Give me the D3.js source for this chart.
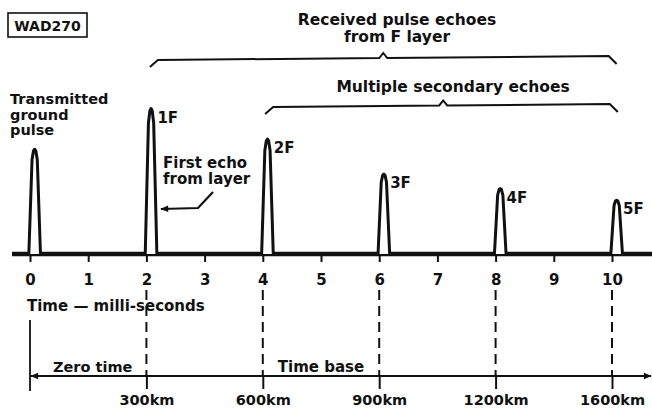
<!DOCTYPE html>
<meta charset="utf-8">
<script src="https://cdn.jsdelivr.net/npm/d3@7"></script>
<style>
  body { margin: 0; background: #fff; }
  text { font-family: "DejaVu Sans", sans-serif; font-weight: bold; fill: #111; }
</style>
<div id="vis"></div>
<script>
// time axis (milli-seconds)
const msTicks = [0, 1, 2, 3, 4, 5, 6, 7, 8, 9, 10]

// pulses: ground pulse then echoes
const pulseTimes = [0, 2, 4, 6, 8, 10]
const pulseHeights = [72, 100, 79, 55, 45, 37]
const pulseNames = ["", "1F", "2F", "3F", "4F", "5F"]

// one pulse profile: [ms offset, fraction of height]
const pulseShape = [[-0.02, 0], [0.035, 0.9], [0.06, 0.985], [0.08, 1], [0.1, 0.985], [0.125, 0.9], [0.18, 0]]

// distance scale under the time base
const kmTimes = [2, 4, 6, 8, 10]
const kmLabels = ["300km", "600km", "900km", "1200km", "1600km"]

// braces over the echoes: from, to, tip (ms)
const braceFrom = [2.06, 4.04]
const braceTo = [10.08, 10.1]
const braceTip = [6.07, 7.1]

const width = 652, height = 411
const baseY = 254, baseY2 = 376

const x = d3.scaleLinear().domain([0, 10]).range([30, 612])
const y = d3.scaleLinear().domain([0, 100]).range([baseY, 108.5])

const svg = d3.select("#vis").append("svg")
  .attr("width", width).attr("height", height)

const defs = svg.append("defs")
defs.append("marker").attr("id", "arr")
  .attr("viewBox", "0 0 10 10").attr("refX", 9).attr("refY", 5)
  .attr("markerWidth", 12).attr("markerHeight", 8).attr("markerUnits", "userSpaceOnUse")
  .attr("orient", "auto-start-reverse")
  .append("path").attr("d", "M0,1 L10,5 L0,9 Z").attr("fill", "#111")

// label box
svg.append("rect").attr("x", 8).attr("y", 13).attr("width", 79).attr("height", 24)
  .attr("fill", "none").attr("stroke", "#111").attr("stroke-width", 1.6)
svg.append("text").attr("x", 47.5).attr("y", 31).attr("text-anchor", "middle")
  .style("font-size", "14px").text("WAD270")

// thick baseline
svg.append("line")
  .attr("x1", x(-0.31)).attr("x2", width).attr("y1", baseY).attr("y2", baseY)
  .attr("stroke", "#111").attr("stroke-width", 4.5)

// pulses
const line = d3.line().x(d => x(d[0])).y(d => y(d[1]))
const pulses = pulseTimes.map((t, i) => pulseShape.map(p => [t + p[0], p[1] * pulseHeights[i]]))

svg.selectAll(".pulse")
  .data(pulses)
  .enter()
  .append("path")
  .attr("class", "pulse")
  .attr("d", line)
  .attr("fill", "#fff")
  .attr("stroke", "#111")
  .attr("stroke-width", 3)
  .attr("stroke-linejoin", "round")

svg.selectAll(".pname")
  .data(pulseTimes.slice(1))
  .enter()
  .append("text")
  .attr("class", "pname")
  .attr("x", t => x(t) + 11)
  .attr("y", (t, i) => y(pulseHeights[i + 1]) + 14)
  .style("font-size", "15px")
  .text((t, i) => pulseNames[i + 1])

// time axis
const axis = svg.append("g")
  .attr("transform", `translate(0,${baseY})`)
  .call(d3.axisBottom(x).tickValues(msTicks).tickSize(8).tickPadding(12).tickFormat(d3.format("d")))
axis.select(".domain").remove()
axis.selectAll(".tick line").attr("stroke", "#111").attr("stroke-width", 2)
axis.selectAll(".tick text").style("font-size", "15px").attr("font-family", null)

svg.append("text").attr("x", 27).attr("y", 311).style("font-size", "15px").text("Time \u2014 milli-seconds")

// dashed guides down to the time base
svg.selectAll(".guide")
  .data(kmTimes)
  .enter()
  .append("line")
  .attr("class", "guide")
  .attr("x1", x).attr("x2", x)
  .attr("y1", 290).attr("y2", baseY2)
  .attr("stroke", "#111").attr("stroke-width", 2)
  .attr("stroke-dasharray", "10,6")

svg.append("line")
  .attr("x1", x(0)).attr("x2", x(0)).attr("y1", 320).attr("y2", 391)
  .attr("stroke", "#111").attr("stroke-width", 1.8)

// time base arrow line
svg.append("line")
  .attr("x1", x(0) + 1).attr("x2", 651).attr("y1", baseY2).attr("y2", baseY2)
  .attr("stroke", "#111").attr("stroke-width", 2)
  .attr("marker-start", "url(#arr)").attr("marker-end", "url(#arr)")

const kmAxis = svg.append("g")
  .attr("transform", `translate(0,${baseY2})`)
  .call(d3.axisBottom(x).tickValues(kmTimes).tickSize(13).tickPadding(6)
    .tickFormat((d, i) => kmLabels[i]))
kmAxis.select(".domain").remove()
kmAxis.selectAll(".tick line").attr("stroke", "#111").attr("stroke-width", 2)
kmAxis.selectAll(".tick text").style("font-size", "14.5px").attr("font-family", null)

svg.append("text").attr("x", 53).attr("y", 372).style("font-size", "14.5px").text("Zero time")
svg.append("text").attr("x", 321).attr("y", 372).attr("text-anchor", "middle")
  .style("font-size", "15px").text("Time base")

// left annotations
const tg = svg.append("text").style("font-size", "14.5px")
;["Transmitted", "ground", "pulse"].forEach((s, i) => {
  tg.append("tspan").attr("x", 10).attr("y", 104 + i * 15.5).text(s)
})
const fe = svg.append("text").style("font-size", "15px")
;["First echo", "from layer"].forEach((s, i) => {
  fe.append("tspan").attr("x", 163).attr("y", 168 + i * 15.5).text(s)
})
svg.append("path")
  .attr("d", "M213,192 L198,208 L161,209")
  .attr("fill", "none").attr("stroke", "#111").attr("stroke-width", 2.2)
  .attr("marker-end", "url(#arr)")

// braces
const braceY = [[60, 56], [107, 104]]
braceFrom.forEach((a, i) => {
  const x0 = x(a), x1 = x(braceTo[i]), xm = x(braceTip[i])
  const yl = braceY[i][0], yr = braceY[i][1]
  const ym = yl + (yr - yl) * (xm - x0) / (x1 - x0)
  svg.append("path")
    .attr("d", `M${x0},${yl + 7} L${x0 + 8},${yl} L${xm - 4},${ym} L${xm},${ym - 5} L${xm + 4},${ym} L${x1 - 8},${yr} L${x1},${yr + 8}`)
    .attr("fill", "none").attr("stroke", "#111").attr("stroke-width", 2)
})

const rp = svg.append("text").attr("text-anchor", "middle").style("font-size", "15.5px")
;["Received pulse echoes", "from F layer"].forEach((s, i) => {
  rp.append("tspan").attr("x", 397).attr("y", 25 + i * 17).text(s)
})
svg.append("text").attr("x", 453).attr("y", 92).attr("text-anchor", "middle")
  .style("font-size", "15.5px").text("Multiple secondary echoes")
</script>
